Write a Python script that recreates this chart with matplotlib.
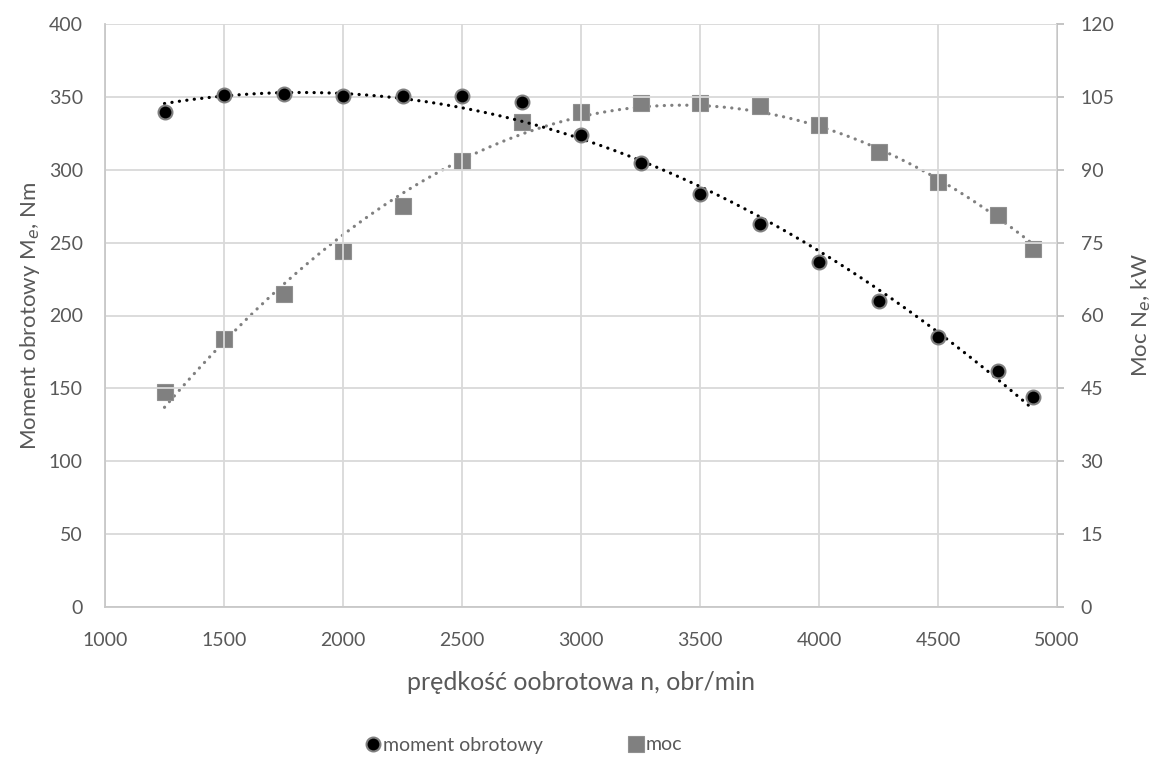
import numpy as np
import matplotlib
matplotlib.use("Agg")
import matplotlib.pyplot as plt
from matplotlib.lines import Line2D

plt.rcParams['font.family'] = ['Lato', 'DejaVu Sans']

speed = [1250, 1500, 1750, 2000, 2250, 2500, 2750, 3000, 3250, 3500,
         3750, 4000, 4250, 4500, 4750, 4900]
torque = [339.5, 351.5, 351.8, 350.5, 350.7, 350.3, 346.6, 323.7, 304.3, 283.1,
          262.5, 236.4, 210.1, 185.4, 162.1, 143.8]
power = [44.3, 55.1, 64.4, 73.3, 82.5, 91.7, 99.8, 101.8, 103.7, 103.8,
         103.2, 99.2, 93.6, 87.5, 80.7, 73.7]

x_ticks = [1000, 1500, 2000, 2500, 3000, 3500, 4000, 4500, 5000]
left_ticks = [0, 50, 100, 150, 200, 250, 300, 350, 400]
right_ticks = [0, 15, 30, 45, 60, 75, 90, 105, 120]

txt = '#595959'
gridc = '#d9d9d9'

fig = plt.figure(figsize=(11.58, 7.6), dpi=100)
ax = fig.add_axes([105/1158, 1-607/760, (1057-105)/1158, (607-24)/760])
ax2 = ax.twinx()

s = np.array(speed, float)
xs = np.linspace(s.min(), s.max(), 300)
ct = np.polyfit(s, torque, 2)
cp = np.polyfit(s, power, 2)

dot = (0, (0.05, 2.3))
ax.plot(xs, np.polyval(ct, xs), color='black', lw=2.3, ls=dot,
        dash_capstyle='round', zorder=3)
ax2.plot(xs, np.polyval(cp, xs), color='#808080', lw=2.3, ls=dot,
         dash_capstyle='round', zorder=3)
ax2.plot(speed, power, ls='none', marker='s', ms=11, mfc='#808080',
         mec='#909090', mew=0.8, zorder=4)
ax.plot(speed, torque, ls='none', marker='o', ms=10, mfc='black',
        mec='#808080', mew=1.5, zorder=5)

ax.set_zorder(ax2.get_zorder() + 1)
ax.patch.set_visible(False)

ax.set_xlim(1000, 5000)
ax.set_ylim(0, 400)
ax2.set_ylim(0, 120)
ax.set_xticks(x_ticks)
ax.set_yticks(left_ticks)
ax2.set_yticks(right_ticks)

ax2.grid(False)
ax.grid(True, color=gridc, lw=1.3)
ax.set_axisbelow(True)

for a in (ax, ax2):
    for sp in a.spines.values():
        sp.set_visible(False)
ax.spines['left'].set_visible(True)
ax.spines['left'].set_color('#c8c8c8')
ax.spines['left'].set_linewidth(1.3)
ax.spines['bottom'].set_visible(True)
ax.spines['bottom'].set_color('#c8c8c8')
ax.spines['bottom'].set_linewidth(1.3)
ax2.spines['right'].set_visible(True)
ax2.spines['right'].set_color('#bfbfbf')
ax2.spines['right'].set_linewidth(1.3)

ax.tick_params(axis='y', length=0, labelsize=14, labelcolor=txt, pad=16)
ax.tick_params(axis='x', length=0, labelsize=14, labelcolor=txt, pad=18)
ax2.tick_params(axis='y', length=5, width=1.3, color='#bfbfbf', labelsize=14,
                labelcolor=txt, pad=12)

ax.set_xlabel('prędkość oobrotowa n, obr/min', fontsize=18, color=txt, labelpad=16)
ax.set_ylabel('Moment obrotowy M$_e$, Nm', fontsize=16, color=txt, labelpad=5)
ax2.set_ylabel('Moc N$_e$, kW', fontsize=16, color=txt, labelpad=11)

handles = [Line2D([], [], ls='none', marker='o', ms=10, mfc='black',
                  mec='#808080', mew=1.5),
           Line2D([], [], ls='none', marker='s', ms=11, mfc='#808080',
                  mec='#909090', mew=0.8)]
fig.legend(handles, ['moment obrotowy', 'moc'], loc='center',
           bbox_to_anchor=(523/1158, 1-745/760), ncol=2, frameon=False,
           fontsize=14, labelcolor=txt, handletextpad=0.0, columnspacing=4.3,
           handlelength=1.0)

fig.savefig('out.png', dpi=100, facecolor='white')
